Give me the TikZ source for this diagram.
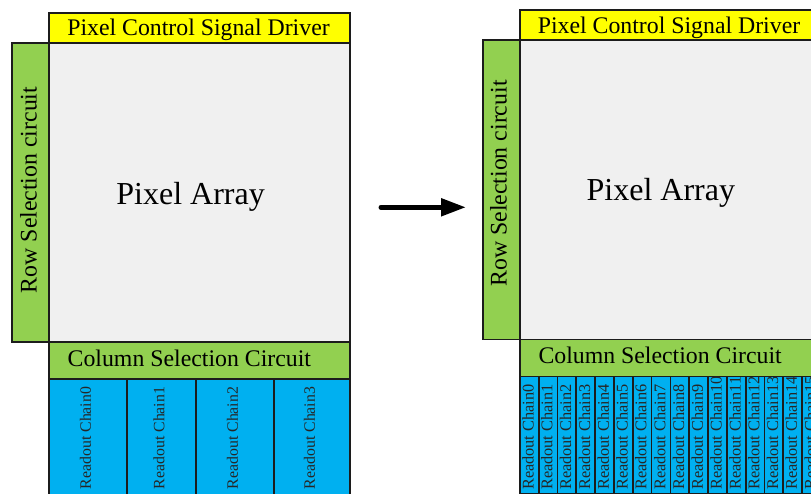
\documentclass[tikz,border=0pt]{standalone}
\usepackage{fontspec}
\setmainfont{Liberation Serif}
\usetikzlibrary{arrows.meta}
\definecolor{drvyellow}{HTML}{FFFF00}
\definecolor{selgreen}{HTML}{92D050}
\definecolor{chainblue}{HTML}{00B0F0}
\definecolor{arraygray}{HTML}{F0F0F0}
\definecolor{edgecol}{HTML}{1C1C1C}
\tikzset{
  blk/.style={draw=edgecol, line width=1.8pt, inner sep=0pt, anchor=north west},
  drvbox/.style={blk, fill=drvyellow, minimum width=301pt, minimum height=30pt},
  rowbox/.style={blk, fill=selgreen, minimum width=37pt, minimum height=299pt},
  arrbox/.style={blk, fill=arraygray, minimum width=301pt, minimum height=299pt},
  colbox/.style={blk, fill=selgreen, minimum width=301pt, minimum height=37pt},
  chainbox/.style={blk, fill=chainblue, minimum height=117pt},
  lbl/.style={inner sep=0pt, text=black, font=\rmfamily\fontsize{23.8}{28}\selectfont},
  biglbl/.style={inner sep=0pt, text=black, font=\rmfamily\fontsize{32}{38}\selectfont},
  chainlbl/.style={inner sep=0pt, text=black!85, rotate=90, anchor=base west},
  bigarrow/.style={draw=black, line width=5pt, line cap=round, -{Triangle[length=25pt,width=17pt]}}
}
\begin{document}
\begin{tikzpicture}[x=1pt,y=-1pt]
\clip (0,0) rectangle (811,494);
\fill[white] (0,0) rectangle (811,494);

% ---------- left diagram ----------
\node[arrbox] (Larr) at (48,42) {};
\node[drvbox] (Ldrv) at (48,12) {};
\node[rowbox] (Lrow) at (11,42) {};
\node[colbox] (Lcol) at (48,341) {};
\node[lbl, anchor=base] (Ldrvt) at (198.5,36) {Pixel Control Signal Driver};
\node[biglbl, anchor=base] (Larrt) at (190.6,204.3) {Pixel Array};
\node[lbl, rotate=90, anchor=base] (Lrowt) at (36.5,190) {Row Selection circuit};
\node[lbl, anchor=base west] (Lcolt) at (67.5,366) {Column Selection Circuit};
\foreach \cx/\cw/\i in {48/77.7/0, 125.7/69.3/1, 195/77.7/2, 272.7/76.3/3} {
  \node[chainbox, minimum width=\cw pt] (Lc\i) at (\cx,378) {};
  \node[chainlbl, font=\rmfamily\fontsize{15.8}{19}\selectfont] (Lct\i) at (\cx+\cw/2+4,489.3) {Readout Chain\i};
}

% ---------- arrow ----------
\coordinate (aS) at (381,207.3);
\coordinate (aE) at (466,207.3);
\draw[bigarrow] (aS) -- (aE);

% ---------- right diagram ----------
\begin{scope}[shift={(471,-2.5)}]
\node[arrbox] (Rarr) at (48,42) {};
\node[drvbox] (Rdrv) at (48,12) {};
\node[rowbox] (Rrow) at (11,42) {};
\node[colbox] (Rcol) at (48,341) {};
\node[lbl, anchor=base] (Rdrvt) at (198,36) {Pixel Control Signal Driver};
\node[biglbl, anchor=base] (Rarrt) at (189.8,203.5) {Pixel Array};
\node[lbl, rotate=90, anchor=base] (Rrowt) at (35.7,186) {Row Selection circuit};
\node[lbl, anchor=base west] (Rcolt) at (67.3,365.8) {Column Selection Circuit};
\foreach \i in {0,...,15} {
  \pgfmathsetmacro\cx{48+\i*18.8125}
  \node[chainbox, minimum width=18.8125pt] (Rc\i) at (\cx,378) {};
  \node[chainlbl, font=\rmfamily\fontsize{16.3}{19}\selectfont] (Rct\i) at (\cx+14.6,492.5) {Readout Chain\i};
}
\end{scope}
\end{tikzpicture}
\end{document}
